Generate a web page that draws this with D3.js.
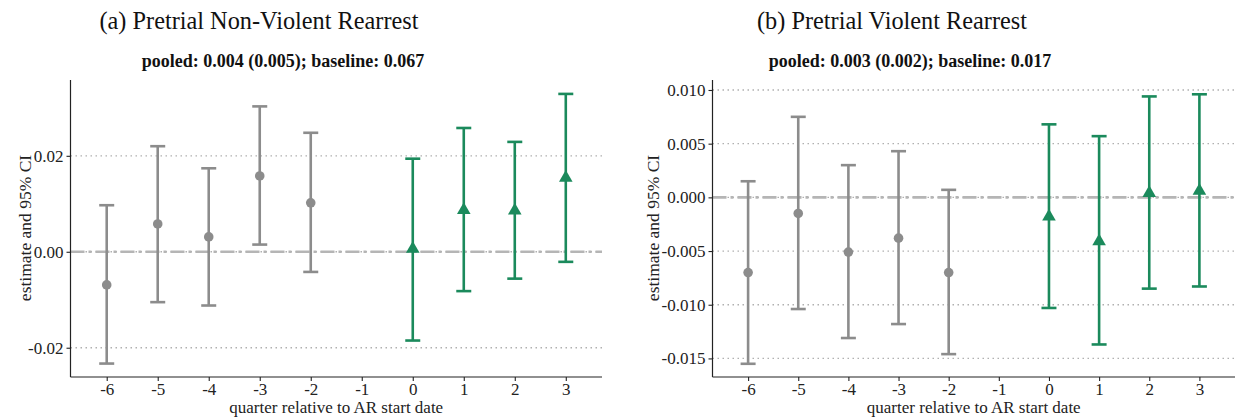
<!DOCTYPE html>
<html>
<head>
<meta charset="utf-8">
<title>Pretrial rearrest event study</title>
<script src="https://cdn.jsdelivr.net/npm/d3@7"></script>
<style>
	body { margin: 0; background: #fff; }
	text { font-family: "Liberation Serif", "DejaVu Serif", serif; }
</style>
</head>
<body>
<div class="chart"></div>
<script>
var quarters = [-6, -5, -4, -3, -2, 0, 1, 2, 3];
var xTicks   = [-6, -5, -4, -3, -2, -1, 0, 1, 2, 3];

// (a) non-violent
var estA   = [-0.0069, 0.0058, 0.0031, 0.0158, 0.0102, 0.0008, 0.0089, 0.0088, 0.0156];
var lowerA = [-0.0233, -0.0105, -0.0112, 0.0015, -0.0042, -0.0185, -0.0082, -0.0056, -0.0021];
var upperA = [0.0097, 0.0220, 0.0174, 0.0303, 0.0248, 0.0194, 0.0258, 0.0229, 0.0329];
var yTicksA = [-0.02, 0.00, 0.02];

// (b) violent
var estB   = [-0.0070, -0.0015, -0.0051, -0.0038, -0.0070, -0.0017, -0.0040, 0.0005, 0.0007];
var lowerB = [-0.0155, -0.0104, -0.0131, -0.0118, -0.0146, -0.0103, -0.0137, -0.0085, -0.0083];
var upperB = [0.0015, 0.0075, 0.0030, 0.0043, 0.0007, 0.0068, 0.0057, 0.0094, 0.0096];
var yTicksB = [-0.015, -0.010, -0.005, 0.000, 0.005, 0.010];

var titles    = ["(a) Pretrial Non-Violent Rearrest", "(b) Pretrial Violent Rearrest"];
var subtitles = ["pooled: 0.004 (0.005); baseline: 0.067", "pooled: 0.003 (0.002); baseline: 0.017"];

var width = 1238, height = 419;
var grey = "#8c8c8c", green = "#1b8a5c";

var svg = d3.select(".chart").append("svg").attr("width", width).attr("height", height);

function panel(cfg) {
	var g = svg.append("g");
	var x = d3.scaleLinear().domain([-6.71, 3.71]).range([cfg.left, cfg.right]);
	var y = d3.scaleLinear().domain(cfg.ydom).range([377, 80]);

	// gridlines
	g.selectAll(".grid").data(cfg.yTicks).enter().append("line")
		.attr("x1", cfg.left).attr("x2", cfg.right)
		.attr("y1", function(d){ return y(d); }).attr("y2", function(d){ return y(d); })
		.attr("stroke", "#b0b0b0").attr("stroke-width", 1.3)
		.attr("stroke-dasharray", "1.5,3.5");

	// zero line
	g.append("line")
		.attr("x1", cfg.left).attr("x2", cfg.right)
		.attr("y1", y(0)).attr("y2", y(0))
		.attr("stroke", "#b5b5b5").attr("stroke-width", 2.6)
		.attr("stroke-dasharray", "14,4,3,4");

	var rows = quarters.map(function(q, i){
		return { q: q, est: cfg.est[i], lo: cfg.lower[i], hi: cfg.upper[i], post: q >= 0 };
	});
	function col(d){ return d.post ? green : grey; }

	var bars = g.selectAll(".bar").data(rows).enter().append("g");
	bars.append("line")
		.attr("x1", function(d){ return x(d.q); }).attr("x2", function(d){ return x(d.q); })
		.attr("y1", function(d){ return y(d.lo); }).attr("y2", function(d){ return y(d.hi); })
		.attr("stroke", col).attr("stroke-width", 2.6);
	bars.append("line")
		.attr("x1", function(d){ return x(d.q) - 7.5; }).attr("x2", function(d){ return x(d.q) + 7.5; })
		.attr("y1", function(d){ return y(d.hi); }).attr("y2", function(d){ return y(d.hi); })
		.attr("stroke", col).attr("stroke-width", 2.6);
	bars.append("line")
		.attr("x1", function(d){ return x(d.q) - 7.5; }).attr("x2", function(d){ return x(d.q) + 7.5; })
		.attr("y1", function(d){ return y(d.lo); }).attr("y2", function(d){ return y(d.lo); })
		.attr("stroke", col).attr("stroke-width", 2.6);

	bars.filter(function(d){ return !d.post; }).append("circle")
		.attr("cx", function(d){ return x(d.q); }).attr("cy", function(d){ return y(d.est); })
		.attr("r", 4.8).attr("fill", grey);
	bars.filter(function(d){ return d.post; }).append("path")
		.attr("d", d3.symbol().type(d3.symbolTriangle).size(80))
		.attr("transform", function(d){ return "translate(" + x(d.q) + "," + (y(d.est) + 1) + ")"; })
		.attr("fill", green);

	// axes
	var ax = g.append("g").attr("transform", "translate(0,377)")
		.call(d3.axisBottom(x).tickValues(xTicks).tickSize(4).tickSizeOuter(0).tickFormat(d3.format("d")));
	var ay = g.append("g").attr("transform", "translate(" + cfg.left + ",0)")
		.call(d3.axisLeft(y).tickValues(cfg.yTicks).tickSize(4).tickSizeOuter(0).tickFormat(d3.format(cfg.fmt)));
	[ax, ay].forEach(function(a){
		a.attr("font-size", 17).attr("font-family", "Liberation Serif, serif");
		a.select(".domain").attr("stroke", "#222").attr("stroke-width", 1.2);
		a.selectAll(".tick line").attr("stroke", "#222").attr("stroke-width", 1.1);
		a.selectAll(".tick text").attr("fill", "#222")
			.text(function(d){ return d3.format(a === ax ? "d" : cfg.fmt)(d).replace("\u2212", "-"); });
	});
	ax.selectAll(".tick text").attr("y", 6);
	ax.select(".domain").attr("d", "M" + cfg.left + ",0H" + cfg.right);
	ay.select(".domain").attr("d", "M0,377V80");

	// labels
	g.append("text").attr("x", (cfg.left + cfg.right) / 2).attr("y", 413)
		.attr("text-anchor", "middle").attr("font-size", 17).attr("fill", "#222")
		.text("quarter relative to AR start date");
	g.append("text").attr("transform", "translate(" + cfg.ylabX + ",228) rotate(-90)")
		.attr("text-anchor", "middle").attr("font-size", 17.5).attr("fill", "#222")
		.text("estimate and 95% CI");
	g.append("text").attr("x", cfg.titleX).attr("y", 29)
		.attr("text-anchor", "middle").attr("font-size", 24.3).attr("fill", "#111")
		.text(cfg.title);
	g.append("text").attr("x", cfg.subX).attr("y", 67)
		.attr("text-anchor", "middle").attr("font-size", 18).attr("font-weight", "bold").attr("fill", "#111")
		.text(cfg.sub);
}

panel({ left: 70.5, right: 602, ydom: [-0.0261, 0.0358], yTicks: yTicksA, fmt: ".2f",
	est: estA, lower: lowerA, upper: upperA, ylabX: 31, titleX: 259, subX: 283,
	title: titles[0], sub: subtitles[0] });
panel({ left: 712.5, right: 1235, ydom: [-0.01673, 0.01093], yTicks: yTicksB, fmt: ".3f",
	est: estB, lower: lowerB, upper: upperB, ylabX: 659, titleX: 892, subX: 910,
	title: titles[1], sub: subtitles[1] });
</script>
</body>
</html>
